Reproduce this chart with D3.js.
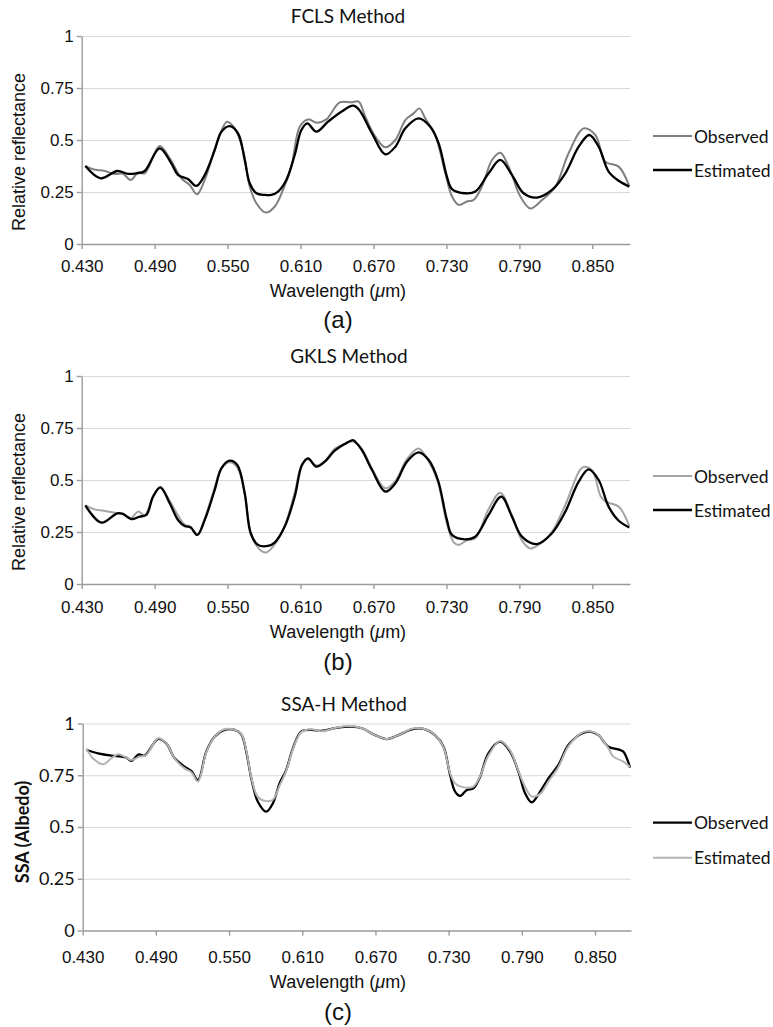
<!DOCTYPE html>
<html>
<head>
<meta charset="utf-8">
<script src="https://cdn.jsdelivr.net/npm/d3@7"></script>
<style>
  html, body { margin: 0; padding: 0; background: #fff; }
  svg { display: block; }
  .tick text { font-family: "Liberation Sans", Arial, sans-serif; font-size: 17px; fill: #111; }
  .grid line { stroke: #d9d9d9; stroke-width: 1.2; }
  .grid .domain { display: none; }
  .axis .domain, .axis line { stroke: #9a9a9a; stroke-width: 1.4; }
  .title, .legend text { font-family: Lato, "Open Sans", sans-serif; fill: #111; }
  .label { font-family: "Liberation Sans", Arial, sans-serif; fill: #111; }
</style>
</head>
<body>
<svg id="chart" width="773" height="1027"></svg>
<script>
// wavelength (nm) / value pairs
const fclsObserved = [[433,0.375],[439.3,0.359],[448.9,0.351],[457.1,0.337],[464,0.337],[470.3,0.308],[476.3,0.343],[481.8,0.34],[494.1,0.471],[502.4,0.412],[512,0.316],[518.8,0.284],[524.9,0.239],[531.2,0.308],[542.1,0.5],[549.5,0.588],[555.8,0.556],[562.7,0.452],[568.2,0.276],[573.7,0.196],[581.3,0.151],[588.7,0.179],[595.6,0.26],[602.5,0.372],[609.3,0.564],[616.2,0.599],[623.8,0.583],[631.2,0.599],[642.2,0.681],[651.8,0.681],[657.8,0.684],[663.3,0.612],[671.5,0.516],[679.7,0.465],[688,0.5],[696.2,0.596],[703,0.628],[707.7,0.652],[712.6,0.604],[720.8,0.524],[729.1,0.34],[734.6,0.228],[740,0.188],[746.9,0.204],[752.4,0.212],[759.2,0.276],[767.5,0.404],[774.3,0.439],[781.2,0.372],[790.8,0.228],[799,0.171],[808.6,0.212],[819.6,0.276],[830.5,0.436],[842.9,0.556],[852.5,0.524],[860.7,0.396],[871.7,0.372],[880.4,0.279]];
const fclsEstimated = [[433,0.375],[445.6,0.316],[459.3,0.351],[468.1,0.337],[474.9,0.34],[481.8,0.351],[494.1,0.46],[503.7,0.388],[509.2,0.332],[517.4,0.312],[524.3,0.279],[531.2,0.332],[539.4,0.452],[544.9,0.54],[551.7,0.567],[558.6,0.532],[564.1,0.404],[568.2,0.292],[573.7,0.244],[580.5,0.236],[586,0.236],[591.5,0.252],[598.3,0.308],[605.2,0.428],[610.7,0.548],[615.6,0.58],[623,0.54],[632.6,0.588],[643.6,0.636],[653.2,0.665],[658,0.647],[668.8,0.532],[679.7,0.431],[688,0.468],[696.2,0.556],[707.1,0.604],[716.7,0.564],[723.6,0.484],[730.4,0.324],[734.6,0.264],[745.5,0.244],[753.8,0.252],[764.7,0.34],[774.3,0.404],[783.9,0.332],[793.5,0.244],[804.5,0.223],[816.8,0.26],[827.8,0.34],[838.8,0.468],[847.5,0.524],[855.2,0.468],[863.4,0.348],[871.7,0.304],[880.4,0.276]];

const gklsObserved = [[433,0.378],[440,0.36],[450,0.35],[459.3,0.34],[464,0.335],[470.8,0.318],[476.3,0.348],[481.8,0.332],[488.7,0.42],[494.7,0.465],[502.4,0.4],[509.2,0.33],[514.7,0.285],[519.6,0.275],[525.1,0.236],[531.2,0.315],[539.4,0.465],[544.9,0.556],[551.7,0.585],[558,0.56],[564.1,0.43],[569,0.25],[575,0.175],[581.3,0.151],[588.7,0.19],[597,0.28],[605.2,0.44],[611.2,0.575],[616.2,0.6],[623,0.57],[629.9,0.59],[638.1,0.65],[646.3,0.675],[653.2,0.685],[660.5,0.65],[668.8,0.555],[679.7,0.46],[688,0.495],[697.5,0.6],[707.1,0.652],[715.4,0.59],[723,0.49],[730.4,0.29],[736,0.2],[740,0.188],[746.9,0.21],[753.8,0.22],[764.7,0.36],[774.3,0.439],[783.9,0.33],[792.1,0.21],[799,0.171],[808.6,0.2],[816.8,0.25],[827.8,0.38],[840,0.55],[843.5,0.564],[850,0.545],[857,0.42],[861,0.396],[871.7,0.372],[880.4,0.279]];
const gklsEstimated = [[433,0.378],[446.2,0.295],[459.3,0.34],[464,0.337],[470.8,0.312],[477.7,0.324],[483.2,0.332],[488.7,0.42],[494.7,0.465],[502.4,0.388],[509.2,0.308],[514.7,0.279],[519.6,0.272],[525.1,0.236],[531.2,0.308],[539.4,0.452],[544.9,0.556],[551.7,0.593],[558,0.572],[564.1,0.436],[569,0.244],[575,0.188],[583.3,0.183],[588.7,0.199],[597,0.276],[605.2,0.42],[611.2,0.572],[616.2,0.604],[623,0.564],[629.9,0.588],[638.1,0.641],[646.3,0.673],[653.2,0.692],[655,0.684],[660.5,0.644],[668.8,0.548],[679.7,0.444],[688,0.484],[697.5,0.588],[707.1,0.633],[715.4,0.596],[723,0.5],[730.4,0.308],[734.6,0.236],[745.5,0.215],[753.8,0.228],[764.7,0.332],[775.1,0.42],[783.9,0.324],[792.1,0.228],[804.5,0.192],[816.8,0.244],[827.8,0.348],[838.8,0.492],[847,0.551],[855.2,0.5],[863.4,0.372],[871.7,0.304],[880.4,0.272]];

const ssaObserved = [[433,0.872],[442.5,0.856],[453.5,0.845],[461.7,0.84],[465.8,0.835],[469.8,0.819],[475.9,0.851],[480.8,0.845],[491.7,0.925],[498.5,0.904],[505.4,0.832],[513.5,0.792],[519,0.771],[524.5,0.727],[531.3,0.864],[538.1,0.936],[546.3,0.969],[554.5,0.969],[560,0.948],[564.1,0.864],[568.2,0.735],[573.6,0.622],[580.5,0.574],[585.9,0.614],[591.4,0.711],[596.8,0.775],[602.3,0.88],[609.1,0.961],[617.3,0.969],[625.5,0.964],[639.2,0.98],[650.7,0.985],[658.8,0.977],[669.8,0.944],[679.3,0.925],[688.9,0.944],[699.8,0.972],[709.4,0.974],[718.9,0.944],[725.8,0.888],[731.2,0.751],[735.3,0.671],[739.4,0.65],[744.9,0.679],[750.3,0.687],[755.8,0.743],[762.6,0.856],[772.2,0.912],[780.4,0.864],[787.2,0.767],[792.7,0.663],[798.1,0.619],[805,0.671],[811.8,0.735],[820,0.8],[828.2,0.896],[839.1,0.952],[845.9,0.961],[852.8,0.944],[861,0.888],[869.1,0.875],[873.2,0.864],[878.7,0.787]];
const ssaEstimated = [[433,0.88],[438.4,0.832],[446.6,0.803],[453.5,0.832],[459,0.851],[464.4,0.84],[469.8,0.824],[476.7,0.84],[482.1,0.848],[491.7,0.928],[498.5,0.905],[505.4,0.83],[513.5,0.783],[519,0.765],[524.5,0.72],[531.3,0.86],[538.1,0.935],[546.3,0.972],[554.5,0.97],[560,0.95],[564.1,0.87],[568.2,0.74],[573.6,0.645],[580.5,0.625],[585.9,0.632],[591.4,0.7],[596.8,0.77],[602.3,0.875],[609.1,0.958],[617.3,0.972],[625.5,0.962],[639.2,0.982],[650.7,0.988],[658.8,0.977],[669.8,0.944],[679.3,0.925],[688.9,0.944],[699.8,0.975],[709.4,0.975],[718.9,0.945],[725.8,0.885],[731.2,0.76],[735.3,0.711],[740,0.695],[745,0.69],[750.3,0.695],[755.8,0.745],[762.6,0.845],[772.2,0.915],[780.4,0.87],[787.2,0.77],[792.7,0.695],[798.1,0.647],[805,0.66],[811.8,0.72],[820,0.79],[828.2,0.89],[839.1,0.955],[845.9,0.962],[852.8,0.945],[861,0.88],[865,0.84],[873.2,0.816],[878.7,0.79]];

const xTicks = [430, 490, 550, 610, 670, 730, 790, 850];
const yTicks = [0, 0.25, 0.5, 0.75, 1];
const seriesNames = ['Observed', 'Estimated'];

const panels = [
    { title: 'FCLS Method', tag: '(a)', yLabel: 'Relative reflectance', bold: false,
      series: [fclsObserved, fclsEstimated], colors: ['#808080', '#000'], widths: [2, 2.3],
      left: 81.7, right: 630, top: 36, bottom: 244, xMax: 881,
      titleX: 348, titleY: 23, tickY: 272, xLabelY: 297, tagY: 328, yLabelX: 19, yLabelY: 152,
      legendY: [136, 170] },
    { title: 'GKLS Method', tag: '(b)', yLabel: 'Relative reflectance', bold: false,
      series: [gklsObserved, gklsEstimated], colors: ['#a3a3a3', '#000'], widths: [2, 2.3],
      left: 81.7, right: 630, top: 376, bottom: 584, xMax: 881,
      titleX: 349, titleY: 363, tickY: 613, xLabelY: 638, tagY: 670, yLabelX: 19, yLabelY: 492,
      legendY: [476, 510] },
    { title: 'SSA-H Method', tag: '(c)', yLabel: 'SSA (Albedo)', bold: true,
      series: [ssaObserved, ssaEstimated], colors: ['#000', '#b3b3b3'], widths: [2.3, 2],
      left: 82.7, right: 631, top: 723.5, bottom: 930.5, xMax: 879.5,
      titleX: 344, titleY: 711, tickY: 963, xLabelY: 988, tagY: 1020, yLabelX: 22, yLabelY: 832,
      legendY: [822.7, 857.7] }
];

const svg = d3.select('#chart');

function drawPanel(p) {
    const x = d3.scaleLinear().domain([430, p.xMax]).range([p.left, p.right]);
    const y = d3.scaleLinear().domain([0, 1]).range([p.bottom, p.top]);
    const g = svg.append('g');

    // horizontal gridlines
    g.append('g')
        .attr('class', 'grid')
        .attr('transform', `translate(${p.left},0)`)
        .call(d3.axisLeft(y).tickValues(yTicks.slice(1)).tickSize(-(p.right - p.left)).tickFormat(''));

    // y axis
    const yAxis = g.append('g')
        .attr('class', 'axis')
        .attr('transform', `translate(${p.left},0)`)
        .call(d3.axisLeft(y).tickValues(yTicks).tickSize(5).tickSizeOuter(0).tickPadding(3).tickFormat(d => String(d)));
    if (p.bold) yAxis.selectAll('text').style('font-family', 'Lato, sans-serif').style('font-size', '18px');

    // x axis
    const xAxis = g.append('g')
        .attr('class', 'axis')
        .attr('transform', `translate(0,${p.bottom})`)
        .call(d3.axisBottom(x).tickValues(xTicks).tickSize(5).tickSizeOuter(0).tickFormat(d => (d / 1000).toFixed(3)));
    xAxis.selectAll('text').attr('y', null).attr('dy', null)
        .attr('transform', `translate(0,${p.tickY - p.bottom})`);

    // lines
    const line = d3.line()
        .x(d => x(d[0]))
        .y(d => y(d[1]))
        .curve(d3.curveCatmullRom.alpha(0.5));

    p.series.forEach((s, i) => {
        g.append('path')
            .datum(s)
            .attr('fill', 'none')
            .attr('stroke', p.colors[i])
            .attr('stroke-width', p.widths[i])
            .attr('stroke-linejoin', 'round')
            .attr('d', line);
    });

    // titles and labels
    g.append('text')
        .attr('class', 'title')
        .attr('x', p.titleX)
        .attr('y', p.titleY)
        .attr('text-anchor', 'middle')
        .style('font-size', '19px')
        .text(p.title);

    const xl = g.append('text')
        .attr('class', 'label')
        .attr('x', 338)
        .attr('y', p.xLabelY)
        .attr('text-anchor', 'middle')
        .style('font-size', '18px');
    xl.append('tspan').text('Wavelength (');
    xl.append('tspan').style('font-style', 'italic').text('\u03bc');
    xl.append('tspan').text('m)');

    g.append('text')
        .attr('class', 'label')
        .attr('x', 338)
        .attr('y', p.tagY)
        .attr('text-anchor', 'middle')
        .style('font-size', '24px')
        .text(p.tag);

    g.append('text')
        .attr('class', p.bold ? 'title' : 'label')
        .attr('transform', `translate(${p.yLabelX},${p.yLabelY}) rotate(-90)`)
        .attr('text-anchor', 'middle')
        .attr('dominant-baseline', 'central')
        .style('font-size', '18px')
        .style('font-weight', p.bold ? 'bold' : 'normal')
        .text(p.yLabel);

    // legend
    const legend = g.append('g').attr('class', 'legend');
    seriesNames.forEach((name, i) => {
        const ly = p.legendY[i];
        legend.append('line')
            .attr('x1', 653).attr('x2', 692)
            .attr('y1', ly).attr('y2', ly)
            .attr('stroke', p.colors[i])
            .attr('stroke-width', p.widths[i]);
        legend.append('text')
            .attr('x', 694)
            .attr('y', ly)
            .attr('dominant-baseline', 'central')
            .style('font-size', '17.5px')
            .text(name);
    });
}

panels.forEach(drawPanel);
</script>
</body>
</html>
